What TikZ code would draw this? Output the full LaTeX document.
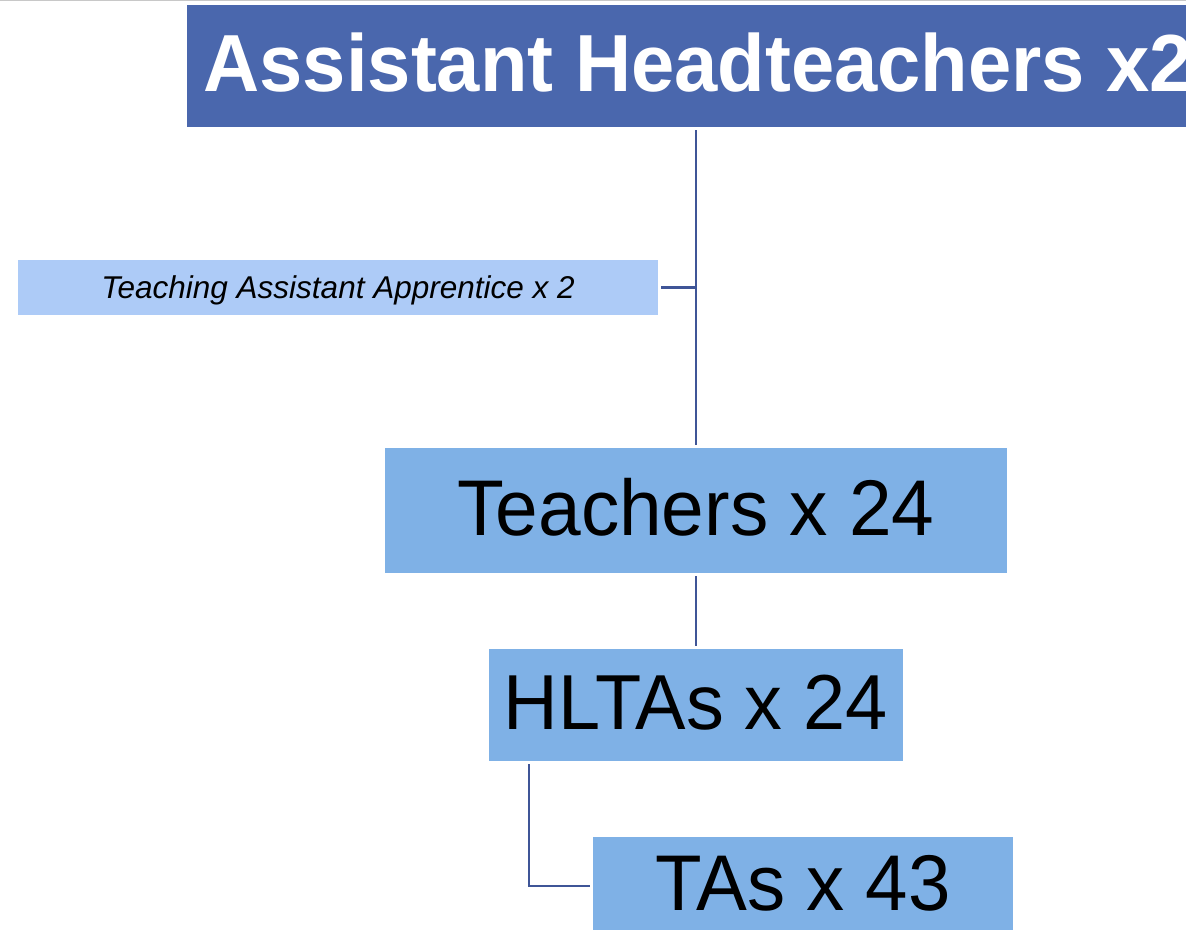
\documentclass[tikz,border=0pt]{standalone}
\usepackage{fontspec}
\usepackage{graphicx}
\setmainfont{Liberation Sans}
\definecolor{topblue}{HTML}{4A67AD}
\definecolor{midblue}{HTML}{7FB1E6}
\definecolor{paleblue}{HTML}{ADCBF7}
\definecolor{linkblue}{HTML}{3F5597}
\definecolor{edgegray}{HTML}{C8C8C8}
\tikzset{
  box/.style={rectangle, inner sep=0pt, text depth=0pt, align=center},
  conn/.style={draw=linkblue, line width=2.4pt, line cap=butt},
}
\begin{document}
\begin{tikzpicture}[x=1pt,y=-1pt]
\useasboundingbox (0,0) rectangle (1186,929);
\clip (0,0) rectangle (1186,929);
\fill[white] (0,0) rectangle (1186,929);
\draw[edgegray, line width=1.5pt] (0,0.5) -- (1186,0.5);
% boxes
\node[box, fill=topblue, text=white, minimum width=1023pt, minimum height=122pt,
      text height=50pt, font=\fontsize{81}{90}\selectfont\bfseries]
      (top) at (698.5,66) {\scalebox{0.96}[1]{Assistant Headteachers x2}};
\node[box, fill=paleblue, minimum width=640pt, minimum height=55pt,
      text height=21pt, font=\fontsize{31.5}{36}\selectfont\itshape]
      (app) at (338,287.5) {Teaching Assistant Apprentice x 2};
\node[box, fill=midblue, minimum width=622pt, minimum height=125pt,
      text height=49pt, font=\fontsize{79}{90}\selectfont]
      (teach) at (696,510.5) {\scalebox{0.97}[1]{Teachers x 24}};
\node[box, fill=midblue, minimum width=414pt, minimum height=112pt,
      text height=48pt, font=\fontsize{78}{90}\selectfont]
      (hlta) at (696,705) {\scalebox{0.97}[1]{HLTAs x 24}};
\node[box, fill=midblue, minimum width=420pt, minimum height=98pt,
      text height=48pt, font=\fontsize{79}{90}\selectfont]
      (tas) at (803,886) {\scalebox{0.965}[1]{TAs x 43}};
% connectors
\coordinate (hx) at (529,761);
\draw[conn, shorten <=3pt, shorten >=3pt] (top.south -| teach.north) -- (teach.north);
\draw[conn, shorten <=3pt] (app.east) -- (app.east -| teach.north);
\draw[conn, shorten <=3pt, shorten >=3pt] (teach.south) -- (hlta.north);
\draw[conn, shorten <=3pt, shorten >=3pt] (hx) |- (tas.west);
\end{tikzpicture}
\end{document}
